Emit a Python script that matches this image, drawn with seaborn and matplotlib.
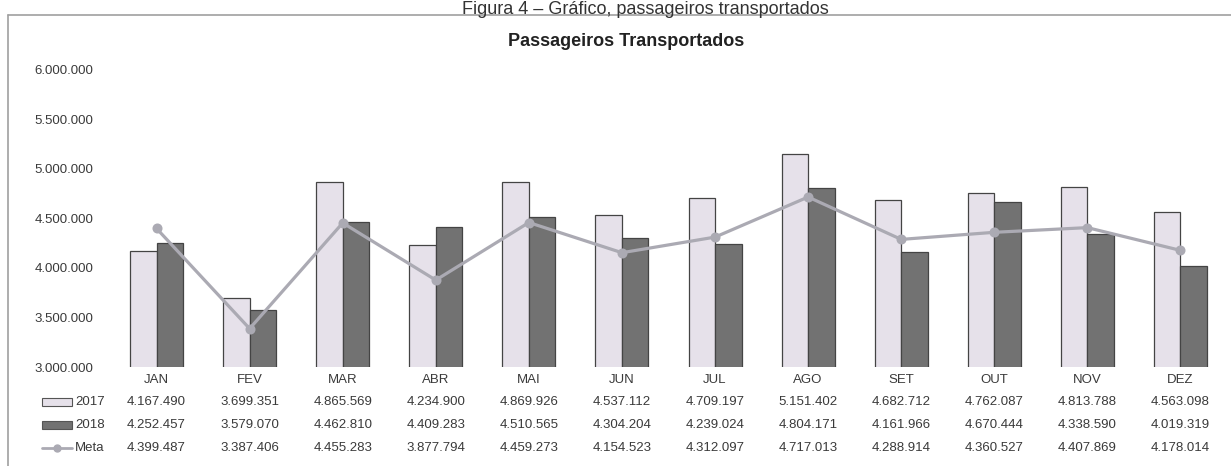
import pandas as pd
import matplotlib
matplotlib.use("Agg")
import matplotlib.pyplot as plt
import seaborn as sns
from matplotlib.ticker import FuncFormatter, MultipleLocator
from matplotlib.transforms import blended_transform_factory
from matplotlib.patches import Rectangle
from matplotlib.lines import Line2D

months = ['JAN', 'FEV', 'MAR', 'ABR', 'MAI', 'JUN', 'JUL', 'AGO', 'SET', 'OUT', 'NOV', 'DEZ']
pax_2017 = [4167490, 3699351, 4865569, 4234900, 4869926, 4537112,
            4709197, 5151402, 4682712, 4762087, 4813788, 4563098]
pax_2018 = [4252457, 3579070, 4462810, 4409283, 4510565, 4304204,
            4239024, 4804171, 4161966, 4670444, 4338590, 4019319]
meta = [4399487, 3387406, 4455283, 3877794, 4459273, 4154523,
        4312097, 4717013, 4288914, 4360527, 4407869, 4178014]
series_names = ['2017', '2018', 'Meta']

sns.set_style("white")
plt.rcParams['font.family'] = ['Liberation Sans', 'DejaVu Sans']

txt = '#3a3a3a'
c17 = '#E6E1EA'
c18 = '#727272'
cmeta = '#ABAAB3'


def fmt(v, pos=None):
    # separador de milhar com ponto
    return f"{int(v):,}".replace(",", ".")


df = pd.DataFrame({
    'Mês': months * 2,
    'Ano': ['2017'] * 12 + ['2018'] * 12,
    'Passageiros': pax_2017 + pax_2018,
})

fig = plt.figure(figsize=(12.31, 4.66), dpi=100)
W, H = 1231, 466
ax = fig.add_axes([110 / W, 99 / H, 1117 / W, 297 / H])

sns.barplot(data=df, x='Mês', y='Passageiros', hue='Ano',
            palette={'2017': c17, '2018': c18}, saturation=1,
            width=0.57, edgecolor='#444444', linewidth=0.9,
            legend=False, ax=ax)
sns.pointplot(x=months, y=meta, color=cmeta, markers='o', markersize=5.5,
              linewidth=2.3, errorbar=None, ax=ax)

ax.set_ylim(3000000, 6000000)
ax.set_xlim(-0.5, 11.5)
ax.yaxis.set_major_locator(MultipleLocator(500000))
ax.yaxis.set_major_formatter(FuncFormatter(fmt))
ax.set_xlabel('')
ax.set_ylabel('')
ax.tick_params(axis='y', length=0, pad=12, labelsize=9.5, labelcolor=txt)
ax.tick_params(axis='x', length=0, pad=5, labelsize=9.5, labelcolor=txt)
for s in ax.spines.values():
    s.set_visible(False)

# tabela de dados abaixo do grafico
trans = blended_transform_factory(ax.transData, ax.transAxes)
rows = [pax_2017, pax_2018, meta]
row_pix = [402, 425, 448]
for vals, yp in zip(rows, row_pix):
    ya = (367 - yp) / 297
    for i, v in enumerate(vals):
        ax.text(i, ya, fmt(v), transform=trans, ha='center',
                va='center', fontsize=9.5, color=txt, clip_on=False)

# chaves de legenda da tabela
for name, yp in zip(series_names, row_pix):
    yf = (H - yp) / H
    if name == 'Meta':
        fig.add_artist(Line2D([42 / W, 72 / W], [yf, yf], color=cmeta, lw=2,
                              transform=fig.transFigure))
        fig.add_artist(Line2D([57 / W], [yf], color=cmeta, marker='o', ms=5,
                              transform=fig.transFigure))
    else:
        fig.add_artist(Rectangle((42 / W, yf - 4 / H), 30 / W, 8 / H,
                                 facecolor=c17 if name == '2017' else c18,
                                 edgecolor='#555555', lw=0.8,
                                 transform=fig.transFigure))
    fig.text(75 / W, yf, name, ha='left', va='center', fontsize=9.5, color=txt)

# moldura do grafico
frame = '#a0a0a0'
fig.add_artist(Line2D([8 / W, 1], [1 - 15 / H, 1 - 15 / H], color=frame, lw=1.2,
                      transform=fig.transFigure))
fig.add_artist(Line2D([8 / W, 8 / W], [0, 1 - 15 / H], color=frame, lw=1.2,
                      transform=fig.transFigure))

fig.text(626 / W, 1 - 46 / H, 'Passageiros Transportados', ha='center',
         va='baseline', fontsize=13, fontweight='bold', color='#222222')
fig.text(645 / W, 1 - 14 / H, 'Figura 4 – Gráfico, passageiros transportados',
         ha='center', va='baseline', fontsize=13, color='#333333')

fig.savefig('out.png', dpi=100)
